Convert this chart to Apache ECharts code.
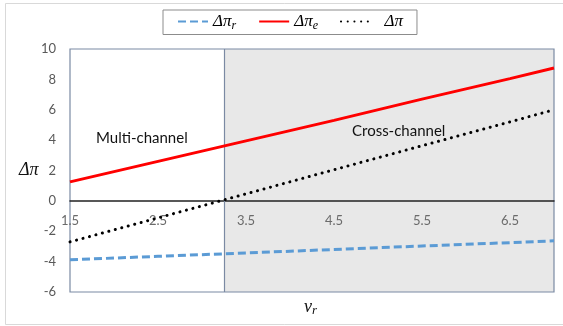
<!DOCTYPE html>
<html>
<head>
<meta charset="utf-8">
<script src="https://cdn.jsdelivr.net/npm/echarts@6/dist/echarts.min.js"></script>
<style>
  html, body { margin: 0; padding: 0; background: #fff; }
  #chart { width: 563px; height: 326px; }
</style>
</head>
<body>
<div id="chart"></div>
<script>
// Relative channel returns against the retailer's valuation ν_r
const nuValues   = [1.5, 2.5, 3.5, 4.5, 5.5, 6.5, 7.0];
const deltaPiR   = [-3.88, -3.65, -3.43, -3.20, -2.97, -2.75, -2.63];
const deltaPiE   = [1.25, 2.60, 3.95, 5.30, 6.70, 8.05, 8.75];
const deltaPi    = [-2.70, -1.12, 0.46, 2.05, 3.63, 5.20, 6.00];
const xTickLabels = [1.5, 2.5, 3.5, 4.5, 5.5, 6.5];
const yTickLabels = [-6, -4, -2, 0, 2, 4, 6, 8, 10];
const regimeBoundary = 3.25;   // switch from multi-channel to cross-channel
const xRange = [1.5, 7.0];

const pairs = ys => nuValues.map((x, i) => [x, ys[i]]);

const chart = echarts.init(document.getElementById('chart'), null, { renderer: 'canvas' });

const legendRich = {
  m: { fontFamily: 'Liberation Serif', fontStyle: 'italic', fontSize: 17, color: '#000' },
  s: { fontFamily: 'Liberation Serif', fontStyle: 'italic', fontSize: 12, color: '#000', padding: [8, 0, 0, 0] }
};

chart.setOption({
  animation: false,
  backgroundColor: '#fff',
  grid: {
    left: 70, right: 9, top: 49, bottom: 34,
    show: true, borderColor: '#7b8aa3', borderWidth: 1.2, backgroundColor: 'transparent'
  },
  legend: {
    top: 10, left: 163,
    itemWidth: 30, itemHeight: 12, itemGap: 22,
    padding: [3, 14, 3, 14],
    borderColor: '#8c8c8c', borderWidth: 1,
    itemStyle: { opacity: 0 },
    data: ['r', 'e', 'all'],
    formatter: function (name) {
      if (name === 'r') return '{m|Δπ}{s|r}';
      if (name === 'e') return '{m|Δπ}{s|e}';
      return '{m|  Δπ}';
    },
    textStyle: { rich: legendRich }
  },
  xAxis: {
    type: 'value',
    min: xRange[0], max: xRange[1],
    axisLine: { onZero: true, lineStyle: { color: '#222', width: 1.5 } },
    axisTick: { show: false },
    splitLine: { show: false },
    axisLabel: {
      customValues: xTickLabels,
      color: '#6b6b6b', fontSize: 13, fontFamily: 'Lato', margin: -78,
      formatter: v => v.toFixed(1)
    }
  },
  yAxis: {
    type: 'value',
    min: -6, max: 10, interval: 2,
    axisLine: { show: false },
    axisTick: { show: false },
    splitLine: { show: false },
    axisLabel: {
      customValues: yTickLabels,
      color: '#595959', fontSize: 13, fontFamily: 'Lato', margin: 14
    }
  },
  graphic: [
    { type: 'rect', z: -10, silent: true,
      shape: { x: 5.5, y: 3.5, width: 580, height: 321 },
      style: { fill: 'none', stroke: '#d9d9d9', lineWidth: 1 } },
    { type: 'text', left: 96, top: 131, z: 20,
      style: { text: 'Multi-channel', fontFamily: 'Lato', fontSize: 15, fill: '#111' } },
    { type: 'text', left: 352, top: 124, z: 20,
      style: { text: 'Cross-channel', fontFamily: 'Lato', fontSize: 15, fill: '#111' } },
    { type: 'text', left: 19, top: 161, z: 20,
      style: { text: 'Δπ', fontFamily: 'Liberation Serif', fontStyle: 'italic', fontSize: 18, fill: '#111' } },
    { type: 'text', left: 304, top: 298, z: 20,
      style: {
        text: '{m|ν}{s|r}',
        rich: {
          m: { fontFamily: 'Liberation Serif', fontStyle: 'italic', fontSize: 18, fill: '#111' },
          s: { fontFamily: 'Liberation Serif', fontStyle: 'italic', fontSize: 13, fill: '#111', padding: [7, 0, 0, 0] }
        }
      } }
  ],
  series: [
    {
      name: 'r', type: 'line', data: pairs(deltaPiR), symbol: 'none', z: 5,
      lineStyle: { color: '#5b9bd5', width: 3, type: [8, 4] },
      itemStyle: { color: '#5b9bd5' },
      markArea: {
        silent: true, z: -1,
        itemStyle: { color: '#e8e8e8' },
        data: [[{ xAxis: regimeBoundary, yAxis: -6 }, { xAxis: xRange[1], yAxis: 10 }]]
      },
      markLine: {
        silent: true, symbol: 'none', z: 1,
        label: { show: false },
        lineStyle: { color: '#7b8aa3', width: 1.2, type: 'solid' },
        data: [{ xAxis: regimeBoundary }]
      }
    },
    {
      name: 'e', type: 'line', data: pairs(deltaPiE), symbol: 'none', z: 5,
      lineStyle: { color: '#ff0000', width: 3 },
      itemStyle: { color: '#ff0000' }
    },
    {
      name: 'all', type: 'line', data: pairs(deltaPi), symbol: 'none', z: 6,
      lineStyle: { color: '#000', width: 3, type: [0.1, 6.6], cap: 'round' },
      itemStyle: { color: '#000' }
    }
  ]
});
</script>
</body>
</html>
